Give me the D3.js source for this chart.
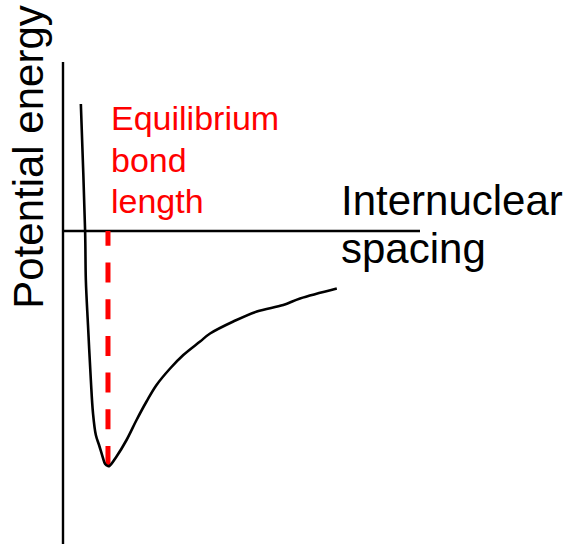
<!DOCTYPE html>
<html>
<head>
<meta charset="utf-8">
<script src="https://cdn.jsdelivr.net/npm/d3@7"></script>
<style>
  html, body { margin: 0; padding: 0; background: #fff; }
  svg { display: block; }
  text { font-family: "Liberation Sans", Arial, sans-serif; }
</style>
</head>
<body>
<div id="chart"></div>
<script>
// Potential energy curve of a diatomic bond (arbitrary units)
const spacing = [0.50, 0.62, 0.64, 0.70, 0.78, 0.84, 0.92, 1.01, 1.12, 1.18, 1.26,
                 1.30, 1.50, 1.78, 2.06, 2.34, 2.62, 3.00, 3.37, 3.84, 4.12, 4.77, 5.43, 6.17, 6.64, 7.67];
const energy  = [2.54, -0.02, -0.98, -1.88, -2.98, -3.64, -4.08, -4.28, -4.54, -4.66, -4.70,
                 -4.70, -4.51, -4.18, -3.78, -3.41, -3.08, -2.75, -2.48, -2.21, -2.05, -1.81, -1.61, -1.48, -1.35, -1.15];

// Equilibrium bond length and well depth
const bondLength = [1.26];
const wellDepth = [-4.70];

// Axis extents
const spacingExtent = [0, 10];
const energyExtent = [-6.26, 3.38];

const labels = {
  y: "Potential energy",
  x: ["Internuclear", "spacing"],
  eq: ["Equilibrium", "bond", "length"]
};

const W = 566, H = 544;
const svg = d3.select("#chart").append("svg").attr("width", W).attr("height", H);

const x = d3.scaleLinear().domain([0, 10]).range([63, 420]);
const y = d3.scaleLinear().domain([-6, 3]).range([531, 81]);

// Vertical axis
svg.append("line")
  .attr("x1", x(0)).attr("x2", x(0))
  .attr("y1", y(energyExtent[1])).attr("y2", y(energyExtent[0]))
  .attr("stroke", "#000").attr("stroke-width", 2.4);

// Horizontal axis at zero energy
svg.append("line")
  .attr("x1", x(spacingExtent[0])).attr("x2", x(spacingExtent[1]))
  .attr("y1", y(0)).attr("y2", y(0))
  .attr("stroke", "#000").attr("stroke-width", 2.4);

// Dashed marker for the equilibrium bond length (drawn from the well upward)
svg.append("line")
  .attr("x1", x(bondLength[0])).attr("x2", x(bondLength[0]))
  .attr("y1", y(wellDepth[0])).attr("y2", y(0))
  .attr("stroke", "#ff0000").attr("stroke-width", 5)
  .attr("stroke-dasharray", "20 16.7");

// Energy curve
const pts = spacing.map((s, i) => [s, energy[i]]);
const line = d3.line()
  .x(d => x(d[0])).y(d => y(d[1]))
  .curve(d3.curveCatmullRom.alpha(0.5));
svg.append("path")
  .attr("d", line(pts))
  .attr("fill", "none").attr("stroke", "#000").attr("stroke-width", 2.6)
  .attr("stroke-linejoin", "round");

// Axis titles
svg.append("text")
  .attr("transform", "translate(43,157) rotate(-90)")
  .attr("text-anchor", "middle")
  .attr("font-size", 42)
  .attr("fill", "#000")
  .text(labels.y);

const xt = svg.append("text").attr("font-size", 42).attr("fill", "#000");
labels.x.forEach((t, i) => {
  xt.append("tspan").attr("x", 341).attr("y", 215 + i * 48).text(t);
});

const eq = svg.append("text").attr("font-size", 34).attr("fill", "#ff0000");
labels.eq.forEach((t, i) => {
  eq.append("tspan").attr("x", 111).attr("y", 130 + i * 41.5).text(t);
});
</script>
</body>
</html>
